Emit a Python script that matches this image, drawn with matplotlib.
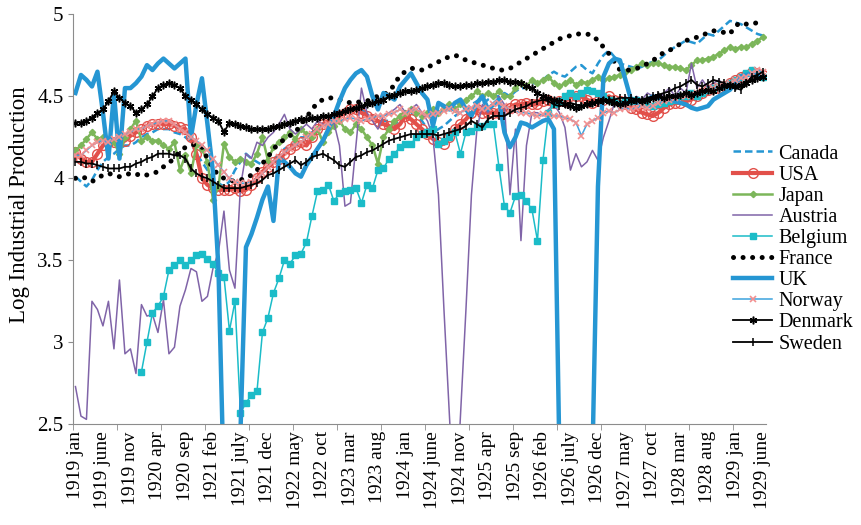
import numpy as np
import matplotlib
matplotlib.use('Agg')
import matplotlib.pyplot as plt

plt.rcParams['font.family'] = 'serif'
plt.rcParams['font.serif'] = ['Liberation Serif', 'DejaVu Serif']

nan = np.nan

# x axis: one label every 5 months, 1919 jan .. 1929 june (126 months)
tick_labels = ['1919 jan', '1919 june', '1919 nov', '1920 apr', '1920 sep',
               '1921 feb', '1921 july', '1921 dec', '1922 may', '1922 oct',
               '1923 mar', '1923 aug', '1924 jan', '1924 june', '1924 nov',
               '1925 apr', '1925 sep', '1926 feb', '1926 july', '1926 dec',
               '1927 may', '1927 oct', '1928 mar', '1928 aug', '1929 jan',
               '1929 june']
ytick_values = [2.5, 3, 3.5, 4, 4.5, 5]
ytick_labels = ['2.5', '3', '3.5', '4', '4.5', '5']

# monthly log industrial production, one row per year
canada = [
    4.01, 3.98, 3.95, 3.99, 4.05, 4.10, 4.13, 4.15, 4.18, 4.20, 4.20, 4.22,
    4.25, 4.27, 4.28, 4.30, 4.30, 4.30, 4.28, 4.27, 4.25, 4.22, 4.15, 4.10,
    4.05, 4.00, 3.97, 3.95, 3.98, 4.05, 4.10, 4.15, 4.12, 4.10, 4.08, 4.10,
    4.12, 4.14, 4.18, 4.20, 4.22, 4.25, 4.25, 4.28, 4.30, 4.32, 4.35, 4.37,
    4.38, 4.40, 4.42, 4.43, 4.42, 4.40, 4.38, 4.37, 4.35, 4.35, 4.33, 4.35,
    4.38, 4.40, 4.38, 4.35, 4.30, 4.28, 4.30, 4.32, 4.35, 4.38, 4.40, 4.42,
    4.45, 4.47, 4.45, 4.48, 4.50, 4.50, 4.52, 4.50, 4.53, 4.55, 4.55, 4.58,
    4.58, 4.60, 4.63, 4.65, 4.63, 4.62, 4.65, 4.68, 4.69, 4.66, 4.64, 4.70,
    4.75, 4.78, 4.74, 4.70, 4.69, 4.68, 4.67, 4.68, 4.70, 4.71, 4.72, 4.75,
    4.78, 4.80, 4.82, 4.84, 4.83, 4.82, 4.85, 4.88, 4.87, 4.90, 4.93, 4.96,
    4.95, 4.94, 4.92, 4.90, 4.88, 4.87,
]
usa = [
    4.16, 4.12, 4.10, 4.10, 4.15, 4.20, 4.22, 4.22, 4.23, 4.23, 4.26, 4.28,
    4.30, 4.32, 4.33, 4.33, 4.33, 4.33, 4.32, 4.31, 4.30, 4.25, 4.15, 4.00,
    3.96, 3.94, 3.93, 3.93, 3.93, 3.94, 3.92, 3.93, 3.96, 4.00, 4.04, 4.07,
    4.10, 4.12, 4.15, 4.18, 4.20, 4.22, 4.20, 4.25, 4.30, 4.33, 4.35, 4.37,
    4.38, 4.40, 4.42, 4.42, 4.40, 4.38, 4.36, 4.35, 4.33, 4.32, 4.30, 4.33,
    4.38, 4.36, 4.33, 4.30, 4.27, 4.24, 4.22, 4.21, 4.25, 4.30, 4.33, 4.36,
    4.40, 4.42, 4.40, 4.40, 4.40, 4.40, 4.42, 4.43, 4.45, 4.45, 4.46, 4.45,
    4.45, 4.47, 4.48, 4.46, 4.47, 4.47, 4.50, 4.50, 4.50, 4.48, 4.46, 4.47,
    4.48, 4.50, 4.48, 4.47, 4.45, 4.43, 4.42, 4.40, 4.39, 4.38, 4.40, 4.43,
    4.45, 4.46, 4.46, 4.47, 4.48, 4.50, 4.52, 4.54, 4.55, 4.55, 4.56, 4.58,
    4.60, 4.62, 4.63, 4.65, 4.64, 4.63,
]
japan = [
    4.17, 4.20, 4.24, 4.28, 4.24, 4.25, 4.20, 4.22, 4.15, 4.25, 4.30, 4.35,
    4.23, 4.25, 4.23, 4.23, 4.20, 4.18, 4.22, 4.05, 4.14, 4.03, 4.20, 4.18,
    4.10, 3.87, 3.95, 4.21, 4.13, 4.10, 4.12, 4.10, 4.09, 4.15, 4.25, 4.11,
    4.19, 4.22, 4.25, 4.28, 4.24, 4.30, 4.27, 4.25, 4.30, 4.22, 4.28, 4.32,
    4.35, 4.30, 4.28, 4.33, 4.30, 4.25, 4.20, 4.09, 4.25, 4.30, 4.35, 4.38,
    4.40, 4.42, 4.40, 4.38, 4.40, 4.42, 4.40, 4.43, 4.45, 4.42, 4.45, 4.48,
    4.50, 4.53, 4.50, 4.52, 4.50, 4.53, 4.50, 4.50, 4.55, 4.58, 4.56, 4.60,
    4.58, 4.60, 4.62, 4.58, 4.56, 4.58, 4.60, 4.57, 4.59, 4.58, 4.60, 4.62,
    4.60, 4.61, 4.62, 4.63, 4.65, 4.66, 4.68, 4.70, 4.69, 4.70, 4.70, 4.69,
    4.68, 4.68, 4.67, 4.66, 4.69, 4.72, 4.72, 4.73, 4.74, 4.76, 4.78, 4.80,
    4.79, 4.80, 4.80, 4.82, 4.84, 4.86,
]
austria = [
    2.73, 2.55, 2.53, 3.25, 3.20, 3.10, 3.25, 2.96, 3.38, 2.93, 2.96, 2.81,
    3.23, 3.16, 3.17, 3.06, 3.26, 2.93, 2.97, 3.22, 3.32, 3.45, 3.43, 3.25,
    3.28, 3.45, 3.55, 3.80, 3.44, 3.33, 3.95, 4.15, 4.12, 4.22, 4.20, 4.25,
    4.28, 4.33, 4.39, 4.30, 4.27, 4.30, 4.33, 4.30, 4.35, 4.33, 4.32, 4.34,
    4.20, 3.83, 3.85, 4.20, 4.55, 4.40, 4.35, 4.30, 4.38, 4.40, 4.42, 4.45,
    4.40, 4.42, 4.45, 4.40, 4.35, 4.25, 3.90, 3.20, 2.55, 1.90, 2.55, 3.20,
    3.90, 4.30, 4.45, 4.40, 4.45, 4.50, 4.45, 3.90, 4.30, 3.62, 4.20, 4.40,
    4.40, 4.38, 4.42, 4.45, 4.40, 4.31, 4.05, 4.15, 4.07, 4.10, 4.17, 4.11,
    4.25, 4.35, 4.46, 4.42, 4.50, 4.45, 4.50, 4.48, 4.52, 4.50, 4.48, 4.52,
    4.55, 4.50, 4.55, 4.52, 4.70, 4.55, 4.60, 4.55, 4.58, 4.60, 4.56, 4.58,
    4.60, 4.62, 4.58, 4.62, 4.64, 4.60,
]
belgium = [
    nan, nan, nan, nan, nan, nan, nan, nan, nan, nan, nan, nan,
    2.82, 3.00, 3.18, 3.22, 3.28, 3.44, 3.47, 3.50, 3.47, 3.50, 3.53, 3.54,
    3.51, 3.48, 3.42, 3.40, 3.07, 3.25, 2.57, 2.63, 2.68, 2.70, 3.06, 3.15,
    3.30, 3.39, 3.50, 3.48, 3.53, 3.54, 3.61, 3.77, 3.92, 3.93, 3.96, 3.86,
    3.91, 3.92, 3.93, 3.94, 3.85, 3.96, 3.94, 4.05, 4.06, 4.12, 4.15, 4.19,
    4.21, 4.21, 4.25, 4.27, 4.28, 4.30, 4.21, 4.23, 4.25, 4.28, 4.15, 4.28,
    4.29, 4.31, 4.32, 4.33, 4.33, 4.07, 3.83, 3.79, 3.89, 3.90, 3.86, 3.81,
    3.62, 4.11, 4.40, 4.45, 4.47, 4.50, 4.52, 4.50, 4.52, 4.54, 4.53, 4.52,
    4.50, 4.48, 4.47, 4.45, 4.47, 4.47, 4.48, 4.46, 4.45, 4.44, 4.45, 4.46,
    4.47, 4.48, 4.50, 4.50, 4.52, 4.50, 4.52, 4.54, 4.55, 4.56, 4.57, 4.58,
    4.60, 4.62, 4.64, 4.66, 4.64, 4.62,
]
france = [
    4.00, 4.01, 4.00, 3.98, 4.00, 4.02, 4.03, 4.02, 4.01, 4.02, 4.03, 4.02,
    4.03, 4.02, 4.03, 4.04, 4.07, 4.09, 4.13, 4.16, 4.19, 4.20, 4.21, 4.19,
    4.12, 4.06, 4.02, 4.00, 3.99, 3.98, 3.99, 4.00, 4.02, 4.05, 4.09, 4.13,
    4.18, 4.21, 4.24, 4.26, 4.28, 4.33, 4.37, 4.42, 4.46, 4.48, 4.49, 4.49,
    4.48, 4.47, 4.46, 4.46, 4.47, 4.47, 4.49, 4.50, 4.51, 4.53, 4.57, 4.63,
    4.65, 4.67, 4.67, 4.66, 4.68, 4.69, 4.71, 4.73, 4.74, 4.75, 4.74, 4.72,
    4.71, 4.70, 4.69, 4.68, 4.67, 4.66, 4.66, 4.67, 4.69, 4.71, 4.73, 4.75,
    4.77, 4.79, 4.81, 4.83, 4.85, 4.86, 4.87, 4.88, 4.88, 4.88, 4.87, 4.84,
    4.80, 4.76, 4.71, 4.66, 4.66, 4.66, 4.67, 4.68, 4.70, 4.72, 4.74, 4.77,
    4.78, 4.80, 4.82, 4.84, 4.85, 4.86, 4.87, 4.89, 4.90, 4.89, 4.89, 4.88,
    4.93, 4.95, 4.94, 4.94, 4.95, nan,
]
uk = [
    4.52, 4.63, 4.60, 4.56, 4.65, 4.40, 4.12, 4.52, 4.12, 4.55, 4.55, 4.58,
    4.62, 4.69, 4.66, 4.70, 4.73, 4.70, 4.67, 4.70, 4.73, 4.25, 4.45, 4.61,
    4.33, 4.04, 3.45, 2.10, 1.80, 1.90, 2.45, 3.58, 3.66, 3.76, 3.87, 3.95,
    3.74, 4.12, 4.10, 4.07, 4.03, 4.01, 4.08, 4.13, 4.18, 4.23, 4.30, 4.38,
    4.47, 4.55, 4.60, 4.64, 4.66, 4.62, 4.50, 4.42, 4.52, 4.50, 4.48, 4.56,
    4.60, 4.64, 4.58, 4.52, 4.48, 4.32, 4.46, 4.44, 4.42, 4.46, 4.48, 4.42,
    4.38, 4.46, 4.50, 4.42, 4.45, 4.48, 4.28, 4.19, 4.25, 4.34, 4.33, 4.31,
    4.33, 4.35, 4.36, 4.30, 2.30, 2.30, 2.30, 2.30, 2.30, 2.30, 2.30, 3.95,
    4.62, 4.70, 4.73, 4.72, 4.60, 4.48, 4.46, 4.47, 4.48, 4.50, 4.49, 4.48,
    4.48, 4.47, 4.46, 4.45, 4.43, 4.42, 4.43, 4.44, 4.48, 4.50, 4.52, 4.54,
    4.58, 4.62, 4.63, 4.64, 4.63, 4.62,
]
norway = [
    4.14, 4.14, 4.17, 4.20, 4.22, 4.23, 4.22, 4.24, 4.25, 4.27, 4.28, 4.30,
    4.30, 4.32, 4.33, 4.34, 4.35, 4.35, 4.33, 4.30, 4.28, 4.25, 4.23, 4.20,
    4.17, 4.12, 4.08, 4.04, 4.00, 3.98, 3.97, 3.97, 3.98, 4.00, 4.03, 4.07,
    4.10, 4.13, 4.16, 4.18, 4.20, 4.22, 4.25, 4.27, 4.30, 4.32, 4.33, 4.35,
    4.35, 4.36, 4.37, 4.36, 4.35, 4.36, 4.37, 4.38, 4.38, 4.39, 4.40, 4.42,
    4.40, 4.41, 4.42, 4.40, 4.38, 4.39, 4.40, 4.41, 4.42, 4.41, 4.40, 4.42,
    4.43, 4.44, 4.42, 4.43, 4.45, 4.46, 4.44, 4.42, 4.41, 4.40, 4.40, 4.39,
    4.38, 4.39, 4.39, 4.38, 4.38, 4.37, 4.36, 4.34, 4.26, 4.33, 4.35, 4.37,
    4.40, 4.41, 4.40, 4.42, 4.43, 4.42, 4.43, 4.44, 4.43, 4.44, 4.46, 4.47,
    4.48, 4.49, 4.50, 4.50, 4.51, 4.52, 4.53, 4.54, 4.55, 4.56, 4.57, 4.58,
    4.60, 4.61, 4.62, 4.64, 4.66, 4.65,
]
denmark = [
    4.34, 4.34, 4.35, 4.37, 4.40, 4.42, 4.47, 4.53, 4.49, 4.46, 4.44, 4.40,
    4.42, 4.45, 4.50, 4.55, 4.57, 4.58, 4.57, 4.55, 4.50, 4.48, 4.45, 4.42,
    4.39, 4.37, 4.35, 4.28, 4.34, 4.33, 4.32, 4.31, 4.30, 4.30, 4.30, 4.30,
    4.31, 4.32, 4.33, 4.34, 4.35, 4.36, 4.36, 4.37, 4.37, 4.38, 4.38, 4.39,
    4.40, 4.41, 4.42, 4.43, 4.44, 4.45, 4.46, 4.47, 4.48, 4.50, 4.51, 4.52,
    4.53, 4.53, 4.54, 4.55, 4.56, 4.57, 4.58, 4.58, 4.57, 4.56, 4.56, 4.57,
    4.57, 4.58, 4.58, 4.59, 4.59, 4.60, 4.60, 4.59, 4.59, 4.58, 4.56, 4.55,
    4.52, 4.50, 4.49, 4.48, 4.47, 4.45, 4.44, 4.43, 4.44, 4.45, 4.46, 4.47,
    4.48, 4.47, 4.46, 4.45, 4.46, 4.47, 4.48, 4.47, 4.48, 4.49, 4.50, 4.49,
    4.50, 4.50, 4.51, 4.52, 4.51, 4.52, 4.53, 4.54, 4.53, 4.55, 4.56, 4.57,
    4.56, 4.57, 4.58, 4.60, 4.61, 4.62,
]
sweden = [
    4.10, 4.10, 4.09, 4.09, 4.08, 4.07, 4.06, 4.06, 4.06, 4.07, 4.07, 4.09,
    4.10, 4.12, 4.13, 4.15, 4.15, 4.15, 4.14, 4.14, 4.12, 4.06, 4.03, 4.01,
    4.00, 3.98, 3.96, 3.94, 3.94, 3.94, 3.94, 3.95, 3.96, 3.97, 3.99, 4.02,
    4.03, 4.05, 4.07, 4.09, 4.11, 4.08, 4.10, 4.13, 4.14, 4.15, 4.13, 4.11,
    4.08, 4.07, 4.10, 4.13, 4.14, 4.16, 4.17, 4.19, 4.21, 4.23, 4.24, 4.25,
    4.26, 4.27, 4.27, 4.27, 4.27, 4.27, 4.26, 4.27, 4.28, 4.29, 4.30, 4.32,
    4.35, 4.33, 4.31, 4.36, 4.38, 4.38, 4.38, 4.40, 4.42, 4.43, 4.44, 4.46,
    4.47, 4.48, 4.47, 4.45, 4.44, 4.45, 4.46, 4.45, 4.44, 4.45, 4.46, 4.46,
    4.47, 4.48, 4.48, 4.49, 4.49, 4.49, 4.48, 4.48, 4.49, 4.50, 4.51, 4.52,
    4.53, 4.55, 4.56, 4.58, 4.60, 4.57, 4.56, 4.58, 4.60, 4.59, 4.58, 4.56,
    4.55, 4.54, 4.58, 4.62, 4.63, 4.65,
]

blue = '#2596d3'
red = '#e2504a'
green = '#7cb65a'
purple = '#8064a8'
cyan = '#1bbcc8'
light_blue = '#3ca3de'
pink = '#f29090'

series = [
    ('Canada', canada, dict(color=blue, lw=1.8, ls=(0, (3, 1.6)))),
    ('USA', usa, dict(color=red, lw=3, marker='o', ms=7, mfc='none', mec=red, mew=1)),
    ('Japan', japan, dict(color=green, lw=1.8, marker='D', ms=3.2)),
    ('Austria', austria, dict(color=purple, lw=1.1)),
    ('Belgium', belgium, dict(color=cyan, lw=1.1, marker='s', ms=4.5)),
    ('France', france, dict(color='black', lw=3.6, ls=(0, (0.01, 1.9)), dash_capstyle='round')),
    ('UK', uk, dict(color=blue, lw=3.2)),
    ('Norway', norway, dict(color=light_blue, lw=1.1, marker='x', ms=4.5, mec=pink, mew=1.2)),
    ('Denmark', denmark, dict(color='black', lw=1.3, marker=(6, 2, 0), ms=5.5, mew=1.1)),
    ('Sweden', sweden, dict(color='black', lw=1.3, marker='|', ms=6, mew=1.1)),
]

for name, vals, style in series:
    assert len(vals) == 126, (name, len(vals))

months = np.arange(126)

fig = plt.figure(figsize=(8.62, 5.25), dpi=100)
ax = fig.add_axes([72.7 / 862, 1 - 424.3 / 525, 693 / 862, 410 / 525])

handles = []
for name, vals, style in series:
    line, = ax.plot(months, vals, label=name, **style)
    handles.append(line)

ax.set_xlim(-0.5, 125.5)
ax.set_ylim(2.5, 5)

axis_grey = '#8c8c8c'
for side in ['top', 'right']:
    ax.spines[side].set_visible(False)
for side in ['left', 'bottom']:
    ax.spines[side].set_color(axis_grey)

ax.set_xticks(np.arange(0, 126, 5))
ax.set_xticklabels(tick_labels, rotation=90, fontsize=14)
ax.set_xticks(np.arange(-0.5, 126, 8), minor=True)
ax.tick_params(axis='x', which='major', length=0, pad=5)
ax.tick_params(axis='x', which='minor', length=4, color=axis_grey)

ax.set_yticks(ytick_values)
ax.set_yticklabels(ytick_labels, fontsize=15)
ax.tick_params(axis='y', length=3.5, color=axis_grey, pad=3)

fig.text(20 / 862, 1 - 205 / 525, 'Log Industrial Production', rotation=90,
         ha='center', va='center', fontsize=16.5)

fig.legend(handles=handles, loc='center left', bbox_to_anchor=(733 / 862, 1 - 249 / 525),
           frameon=False, fontsize=14.5, handlelength=1.95, handletextpad=0.3,
           labelspacing=0.1, borderpad=0, borderaxespad=0)

fig.savefig('out.png', dpi=100)
